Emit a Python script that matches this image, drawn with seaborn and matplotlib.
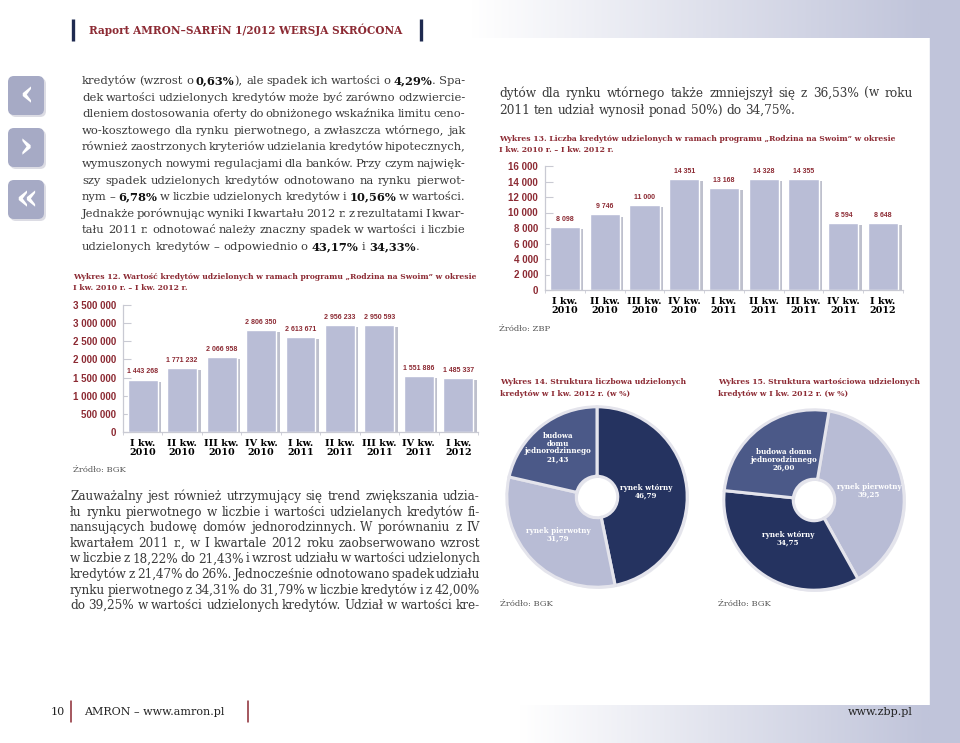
import numpy as np
import pandas as pd
import matplotlib
matplotlib.use("Agg")
import matplotlib.pyplot as plt
import matplotlib.patheffects as pe
from matplotlib.colors import LinearSegmentedColormap
from matplotlib.patches import FancyBboxPatch, Rectangle
import seaborn as sns

# ---- chart data ----
quarters = ["I kw.\n2010", "II kw.\n2010", "III kw.\n2010", "IV kw.\n2010",
            "I kw.\n2011", "II kw.\n2011", "III kw.\n2011", "IV kw.\n2011", "I kw.\n2012"]
credit_value = [1443268, 1771232, 2066958, 2806350, 2613671, 2956233, 2950593, 1551886, 1485337]
credit_count = [8098, 9746, 11000, 14351, 13168, 14328, 14355, 8594, 8648]
value_ticks = [0, 500000, 1000000, 1500000, 2000000, 2500000, 3000000, 3500000]
count_ticks = [0, 2000, 4000, 6000, 8000, 10000, 12000, 14000, 16000]

count_names = ["rynek wtórny", "rynek pierwotny", "budowa\ndomu\njednorodzinnego"]
count_shares = [46.79, 31.79, 21.43]
value_names = ["rynek pierwotny", "rynek wtórny", "budowa domu\njednorodzinnego"]
value_shares = [39.25, 34.75, 26.00]

# ---- page text ----
header = "Raport AMRON–SARFiN 1/2012 WERSJA SKRÓCONA"
para_top = [
    "kredytów (wzrost o **0,63%**), ale spadek ich wartości o **4,29%**. Spa-",
    "dek wartości udzielonych kredytów może być zarówno odzwiercie-",
    "dleniem dostosowania oferty do obniżonego wskaźnika limitu ceno-",
    "wo-kosztowego dla rynku pierwotnego, a zwłaszcza wtórnego, jak",
    "również zaostrzonych kryteriów udzielania kredytów hipotecznych,",
    "wymuszonych nowymi regulacjami dla banków. Przy czym najwięk-",
    "szy spadek udzielonych kredytów odnotowano na rynku pierwot-",
    "nym – **6,78%** w liczbie udzielonych kredytów i **10,56%** w wartości.",
    "Jednakże porównując wyniki I kwartału 2012 r. z rezultatami I kwar-",
    "tału 2011 r. odnotować należy znaczny spadek w wartości i liczbie",
    "udzielonych kredytów – odpowiednio o **43,17%** i **34,33%**.",
]
para_bottom = [
    "Zauważalny jest również utrzymujący się trend zwiększania udzia-",
    "łu rynku pierwotnego w liczbie i wartości udzielanych kredytów fi-",
    "nansujących budowę domów jednorodzinnych. W porównaniu z IV",
    "kwartałem 2011 r., w I kwartale 2012 roku zaobserwowano wzrost",
    "w liczbie z 18,22% do 21,43% i wzrost udziału w wartości udzielonych",
    "kredytów z 21,47% do 26%. Jednocześnie odnotowano spadek udziału",
    "rynku pierwotnego z 34,31% do 31,79% w liczbie kredytów i z 42,00%",
    "do 39,25% w wartości udzielonych kredytów. Udział w wartości kre-",
]
para_right = [
    "dytów dla rynku wtórnego także zmniejszył się z 36,53% (w roku",
    "2011 ten udział wynosił ponad 50%) do 34,75%.",
]
title12 = ["Wykres 12. Wartość kredytów udzielonych w ramach programu „Rodzina na Swoim” w okresie",
           "I kw. 2010 r. – I kw. 2012 r."]
title13 = ["Wykres 13. Liczba kredytów udzielonych w ramach programu „Rodzina na Swoim” w okresie",
           "I kw. 2010 r. – I kw. 2012 r."]
title14 = ["Wykres 14. Struktura liczbowa udzielonych", "kredytów w I kw. 2012 r. (w %)"]
title15 = ["Wykres 15. Struktura wartościowa udzielonych", "kredytów w I kw. 2012 r. (w %)"]

RED = "#8c2a33"
NAVY = "#1f2a50"
INK = "#3a3a3a"
BAR = "#b9bdd6"
LAV = "#c0c4da"
GRID = "#c9cad3"
DARK = "#253360"
MID = "#4b5988"
LIGHT = "#b8bcd5"

W, H = 960, 743

sns.set_theme(style="white")
plt.rcParams["font.family"] = ["DejaVu Serif"]

fig = plt.figure(figsize=(9.6, 7.43), dpi=100)
bg = fig.add_axes([0, 0, 1, 1])
bg.axis("off")

fade = LinearSegmentedColormap.from_list("fade", ["white", LAV])


def band(y0, y1, g0, g1):
    t = np.clip((np.linspace(0, W, 400) - g0) / (g1 - g0), 0, 1)
    bg.imshow(t[None, :], cmap=fade, vmin=0, vmax=1, extent=[0, W, y1, y0],
              aspect="auto", zorder=0)


band(0, 38, 470, 930)
band(705, 743, 520, 930)
bg.add_patch(Rectangle((930, 0), 30, H, color=LAV, zorder=0))
bg.set_xlim(0, W)
bg.set_ylim(H, 0)

# header
bg.plot([73, 73], [19, 41], color=NAVY, lw=2.4, solid_capstyle="butt")
bg.plot([421, 421], [19, 41], color=NAVY, lw=2.4, solid_capstyle="butt")
bg.text(89, 30, header, color=RED, fontsize=7.6, fontweight="bold", va="center")

# quote icons
for y, glyph in zip([76, 128, 180], ["‹", "›", "«"]):
    bg.add_patch(FancyBboxPatch((10, y + 2), 36, 39, boxstyle="round,pad=0,rounding_size=6",
                                fc="#dcdce4", ec="none"))
    bg.add_patch(FancyBboxPatch((8, y), 36, 39, boxstyle="round,pad=0,rounding_size=6",
                                fc="#a6aac5", ec="none"))
    bg.text(26, y + 19, glyph, color="white", fontsize=26, fontweight="bold",
            ha="center", va="center")

# footer
bg.text(65, 712, "10", fontsize=8, color="#222222", ha="right", va="center")
bg.plot([71, 71], [701, 722], color=RED, lw=1.1)
bg.text(84, 712, "AMRON – www.amron.pl", fontsize=8, color="#222222", va="center")
bg.plot([248, 248], [701, 722], color=RED, lw=1.1)
bg.text(913, 712, "www.zbp.pl", fontsize=8, color="#222222", ha="right", va="center")


def justified(lines, x0, x1, y0, dy, size, last_full=False, min_gap=2.0):
    rend = fig.canvas.get_renderer()
    rows = []
    k = 1.0
    for i, line in enumerate(lines):
        bold = False
        words = []
        for word in line.split(" "):
            segs = []
            for j, part in enumerate(word.split("**")):
                if j:
                    bold = not bold
                if part:
                    t = bg.text(0, 0, part, fontsize=size, va="baseline",
                                color="#111111" if bold else INK,
                                fontweight="bold" if bold else "normal")
                    segs.append([t, t.get_window_extent(rend).width])
            words.append(segs)
        full = i < len(lines) - 1 or last_full
        total = sum(s[1] for segs in words for s in segs)
        need = total + min_gap * (len(words) - 1)
        k = min(k, (x1 - x0 - min_gap * (len(words) - 1)) / total) if need > x1 - x0 else k
        rows.append((words, full))
    # one common size for the whole paragraph
    for i, (words, full) in enumerate(rows):
        for segs in words:
            for s in segs:
                s[0].set_fontsize(size * k)
                s[1] *= k
        total = sum(s[1] for segs in words for s in segs)
        gap = (x1 - x0 - total) / (len(words) - 1) if full else size * k * 0.33 * 100 / 72
        x = x0
        y = y0 + i * dy
        for segs in words:
            for t, w in segs:
                t.set_position((x, y))
                x += w
            x += gap


justified(para_top, 82, 465, 84, 16.6, 9.3)
justified(para_bottom, 70, 480, 500, 15.6, 9.3, last_full=True)
justified(para_right, 499, 913, 97, 16.6, 8.7)


def caption(lines, x, y, size=5.5):
    for i, line in enumerate(lines):
        bg.text(x, y + i * 11.5, line, color=RED, fontsize=size, fontweight="bold", va="center")


caption(title12, 73, 277)
caption(title13, 499, 139)
caption(title14, 500, 382)
caption(title15, 718, 382)
for x, y, s in [(73, 470, "Źródło: BGK"), (499, 329, "Źródło: ZBP"),
                (500, 604, "Źródło: BGK"), (718, 604, "Źródło: BGK")]:
    bg.text(x, y, s, fontsize=6, color="#555555", va="center")


def px_axes(x0, y0, x1, y1):
    return fig.add_axes([x0 / W, 1 - y1 / H, (x1 - x0) / W, (y1 - y0) / H])


def spaced(v):
    return f"{v:,}".replace(",", " ")


def bar_chart(box, values, ticks):
    ax = px_axes(*box)
    ax.set_facecolor("none")
    df = pd.DataFrame({"kw": quarters, "val": values})
    sns.barplot(data=df, x="kw", y="val", color=BAR, saturation=1, width=0.76,
                errorbar=None, ax=ax)
    bars = ax.containers[0]
    for p in bars:
        p.set_path_effects([pe.SimplePatchShadow(offset=(2.5, -1.5), shadow_rgbFace="#6f7490",
                                                 alpha=0.45), pe.Normal()])
    ax.bar_label(bars, labels=[spaced(v) for v in values], padding=3, color=RED,
                 fontsize=5.0, fontweight="bold", family="Liberation Sans")
    ax.set_xlim(-0.5, len(values) - 0.5)
    ax.set_ylim(0, ticks[-1])
    ax.set_yticks(ticks, [spaced(t) for t in ticks])
    ax.set_xticks(np.arange(-0.5, len(values)), minor=True)
    ax.set_xlabel("")
    ax.set_ylabel("")
    ax.tick_params(axis="y", left=True, direction="in", length=6, width=0.8, color=GRID,
                   pad=5, labelsize=7, labelcolor=RED)
    ax.tick_params(axis="x", which="major", length=0, pad=5, labelsize=6.9, labelcolor="black")
    ax.tick_params(axis="x", which="minor", bottom=True, length=2.5, width=0.6, color=GRID)
    for lbl in ax.get_yticklabels():
        lbl.set_fontweight("bold")
        lbl.set_family("Liberation Sans")
    for lbl in ax.get_xticklabels():
        lbl.set_fontweight("bold")
        lbl.set_linespacing(0.95)
    sns.despine(ax=ax)
    for side in ("left", "bottom"):
        ax.spines[side].set_color(GRID)
        ax.spines[side].set_linewidth(0.9)
    return ax


bar_chart((123, 305, 478, 432), credit_value, value_ticks)
bar_chart((545, 166, 903, 290), credit_count, count_ticks)


def donut(box, shares, names, colors, start, radii):
    ax = px_axes(*box)
    wedges, _ = ax.pie(shares, colors=colors, startangle=start, counterclock=False,
                       wedgeprops=dict(width=0.77, edgecolor="#e4e4ec", linewidth=2.2))
    for w in wedges:
        w.set_path_effects([pe.SimplePatchShadow(offset=(1.2, -1.2), shadow_rgbFace="#a0a4bb",
                                                 alpha=0.25), pe.Normal()])
    for w, name, share, r in zip(wedges, names, shares, radii):
        a = np.deg2rad((w.theta1 + w.theta2) / 2)
        ax.text(r * np.cos(a), r * np.sin(a), f"{name}\n{share:.2f}".replace(".", ","),
                color="white", fontsize=5.1, fontweight="bold", ha="center", va="center",
                linespacing=0.95)
    ax.set_xlim(-1.02, 1.02)
    ax.set_ylim(-1.02, 1.02)
    return ax


donut((505, 405, 689, 589), count_shares, count_names, [DARK, LIGHT, MID], 90, [0.55, 0.6, 0.7])
donut((722, 408, 906, 592), value_shares, value_names, [LIGHT, DARK, MID], 80.4, [0.62, 0.52, 0.56])

fig.savefig("out.png", dpi=100)
